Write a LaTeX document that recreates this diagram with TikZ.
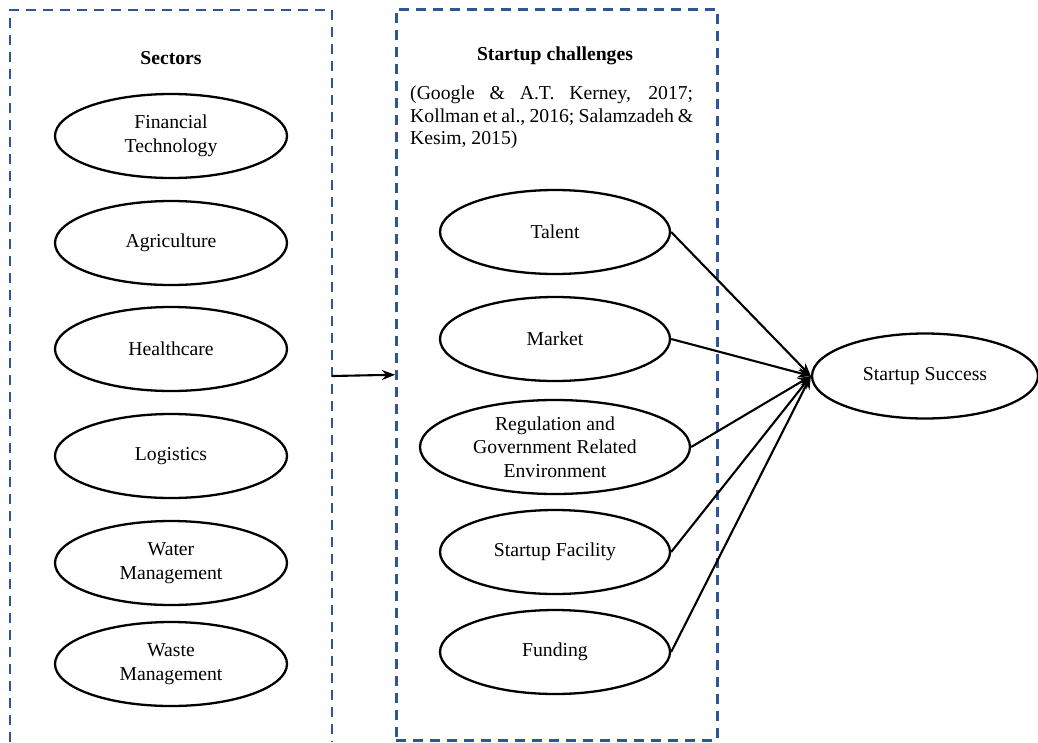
\documentclass[tikz,border=0pt]{standalone}
\usepackage{fontspec}
\setmainfont{Liberation Serif}
\usepackage{xcolor}
\usetikzlibrary{positioning}
\usetikzlibrary{arrows.meta}
\usetikzlibrary{shapes.geometric}
\definecolor{boxblue}{RGB}{47,85,151}

\begin{document}
\begin{tikzpicture}[
            x=1pt, y=-1pt,
            every node/.style={font=\fontsize{19.7}{23.5}\selectfont},
            oval/.style={ellipse, draw, line width=2.3pt, minimum width=232pt, minimum height=84pt, inner sep=0pt, align=center},
            box/.style={draw=boxblue, line width=2.5pt, dash pattern=on 10pt off 7pt},
            arrow style/.style={-{Stealth[length=13pt, width=10pt]}, line width=2.1pt}
        ]

        \useasboundingbox (0,0) rectangle (1038,742);

        \draw[box] (10,742) -- (10,10) -- (332,10) -- (332,742);
        \node[box, minimum width=321pt, minimum height=731pt, anchor=north west, inner sep=0pt] (chal) at (395,8) {};

        \node[font=\fontsize{19.7}{23.5}\selectfont\bfseries] (sectors) at (171,58) {Sectors};
        \node[font=\fontsize{19.7}{23.5}\selectfont\bfseries] (challenges) at (555,56) {Startup challenges};
        \node[anchor=north west, inner sep=0pt, align=left, font=\fontsize{19.7}{22.5}\selectfont] (refs) at (410,86)
            {\makebox[283pt][s]{(Google \& A.T. Kerney, 2017;}\\
             \makebox[283pt][s]{Kollman et al., 2016; Salamzadeh \&}\\
             Kesim, 2015)};

        \node[oval] (fintech) at (171,136) {Financial\\Technology};
        \node[oval] (agri) at (171,243) {Agriculture};
        \node[oval] (health) at (171,349) {Healthcare};
        \node[oval] (logist) at (171,456) {Logistics};
        \node[oval] (water) at (171,563) {Water\\Management};
        \node[oval] (waste) at (171,664) {Waste\\Management};

        \node[oval, minimum width=230pt] (talent) at (555,232) {Talent};
        \node[oval, minimum width=230pt] (market) at (555,339) {Market};
        \node[oval, minimum width=270pt, minimum height=94pt] (regul) at (555,447) {Regulation and\\Government Related\\Environment};
        \node[oval, minimum width=230pt] (facility) at (555,552) {Startup Facility};
        \node[oval, minimum width=230pt] (funding) at (555,652) {Funding};

        \node[oval, minimum width=226pt, minimum height=85pt] (success) at (925,376) {Startup Success};

        \coordinate (sectorsR) at (332,376);
        \draw[arrow style] (sectorsR) -- (chal.west);

        \draw[arrow style] (talent.east) -- (success.west);
        \draw[arrow style] (market.east) -- (success.west);
        \draw[arrow style] (regul.east) -- (success.west);
        \draw[arrow style] (facility.east) -- (success.west);
        \draw[arrow style] (funding.east) -- (success.west);
        \end{tikzpicture}
\end{document}
